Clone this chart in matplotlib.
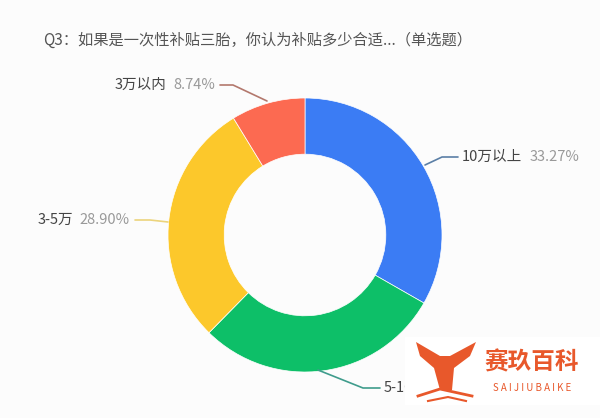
import matplotlib.pyplot as plt
from matplotlib.patches import Rectangle, Polygon

plt.rcParams['font.family'] = ['Noto Sans CJK SC', 'DejaVu Sans']

# Data
categories = ['10万以上', '5-10万', '3-5万', '3万以内']
shares = [33.27, 29.09, 28.90, 8.74]
colors = ['#3b7cf4', '#0dbf68', '#fcc82b', '#fc6a51']
line_colors = ['#5b7fa6', '#3f9c8c', '#ecd47c', '#b3786d']

title = 'Q3：如果是一次性补贴三胎，你认为补贴多少合适...（单选题）'

W, H = 600, 418
fig = plt.figure(figsize=(W / 100, H / 100), dpi=100, facecolor='#fcfcfc')
ax = fig.add_axes([0, 0, 1, 1])
ax.set_facecolor('#fcfcfc')


def Y(y):
    # pixel row (from top) -> axes y
    return H - y


cx, cy, r = 305, Y(235), 137
ax.pie(shares, colors=colors, startangle=90, counterclock=False,
       center=(cx, cy), radius=r,
       wedgeprops=dict(width=r * 0.41, edgecolor='white', linewidth=0.5))

ax.set_xlim(0, W)
ax.set_ylim(0, H)
ax.set_aspect('equal')
ax.axis('off')

ax.text(258, Y(40), title, fontsize=11, color='#555555', ha='center', va='center')

# leader lines and labels: (points of line), text anchor, alignment
label_specs = [
    ([(425, 165), (442, 157), (458, 157)], (462, 157), 'left'),
    ([(318, 370), (363, 388), (380, 388)], (384, 388), 'left'),
    ([(168, 222), (150, 220), (135, 220)], (130, 220), 'right'),
    ([(267, 101), (233, 85), (220, 85)], (215, 85), 'right'),
]
fs = 10.5
for i, (pts, (tx, ty), ha) in enumerate(label_specs):
    xs = [p[0] for p in pts]
    ys = [Y(p[1]) for p in pts]
    ax.plot(xs, ys, color=line_colors[i], lw=1.2, solid_capstyle='round')
    pct = f'{shares[i]:.2f}%'
    if ha == 'left':
        t = ax.text(tx, Y(ty), categories[i], fontsize=fs, color='#444444',
                    ha='left', va='center')
        fig.canvas.draw()
        bb = t.get_window_extent()
        ax.text(bb.x1 + 7, Y(ty), pct, fontsize=fs, color='#999999',
                ha='left', va='center')
    else:
        t = ax.text(tx, Y(ty), pct, fontsize=fs, color='#999999',
                    ha='right', va='center')
        fig.canvas.draw()
        bb = t.get_window_extent()
        ax.text(bb.x0 - 7, Y(ty), categories[i], fontsize=fs, color='#444444',
                ha='right', va='center')

# watermark
orange = '#e8582b'
ax.add_patch(Rectangle((405, Y(405)), 195, 68, facecolor='white', edgecolor='none', zorder=5))
ax.add_patch(Polygon([(440, Y(356)), (416, Y(342)), (420, Y(356)), (434, Y(368)),
                      (440, Y(390)), (452, Y(390)), (454, Y(368)), (470, Y(356)),
                      (476, Y(342)), (450, Y(356))],
                     closed=True, facecolor=orange, edgecolor='none', zorder=6))
ax.plot([418, 440, 472], [Y(396), Y(389), Y(396)], color=orange, lw=2, zorder=6)
ax.plot([428, 448, 466], [Y(401), Y(397), Y(401)], color=orange, lw=1.5, zorder=6)
ax.text(532, Y(362), '赛玖百科', fontsize=17, color=orange, fontweight='bold',
        ha='center', va='center', zorder=7)
ax.text(532, Y(388), 'S A I J I U B A I K E', fontsize=7, color=orange,
        ha='center', va='center', zorder=7)

fig.savefig('out.png', dpi=100, facecolor=fig.get_facecolor())
